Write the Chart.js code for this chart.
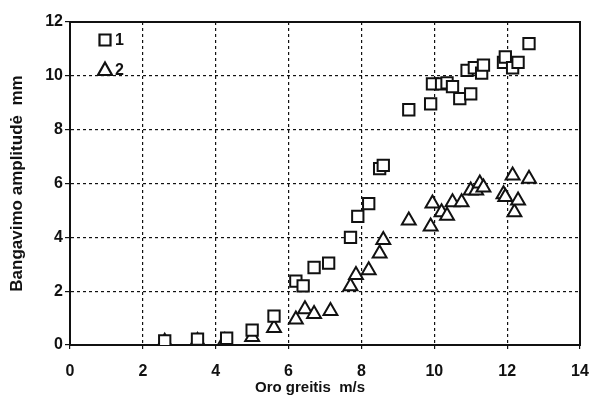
<!DOCTYPE html>
<html>
<head>
<meta charset="utf-8">
<script src="https://cdn.jsdelivr.net/npm/chart.js@4.4.1/dist/chart.umd.min.js"></script>
<style>
  body { margin: 0; background: #fff; }
  #wrap { width: 593px; height: 398px; }
</style>
</head>
<body>
<div id="wrap"><canvas id="myChart"></canvas></div>
<script>
// series 1 (squares)
const speed1 = [2.6, 3.5, 4.3, 5.0, 5.6, 6.2, 6.4, 6.7, 7.1, 7.7, 7.9, 8.2, 8.5, 8.6,
  9.3, 9.9, 9.95, 10.2, 10.35, 10.5, 10.7, 11.0, 10.9, 11.1, 11.3, 11.35, 11.9, 11.95, 12.15, 12.3, 12.6];
const amp1 = [0.15, 0.22, 0.25, 0.55, 1.07, 2.37, 2.2, 2.88, 3.04, 4.0, 4.78, 5.25, 6.55, 6.67,
  8.74, 8.96, 9.7, 9.7, 9.74, 9.6, 9.15, 9.33, 10.2, 10.3, 10.1, 10.4, 10.5, 10.7, 10.3, 10.5, 11.2];

// series 2 (triangles)
const speed2 = [2.6, 3.5, 4.25, 5.0, 5.6, 6.2, 6.45, 6.7, 7.15, 7.7, 7.85, 8.2, 8.5, 8.6,
  9.3, 9.9, 9.95, 10.2, 10.35, 10.5, 10.75, 11.0, 11.15, 11.25, 11.35, 11.9, 11.95, 12.15, 12.2, 12.3, 12.6];
const amp2 = [0.12, 0.15, 0.15, 0.3, 0.63, 0.95, 1.33, 1.15, 1.26, 2.18, 2.6, 2.78, 3.4, 3.9,
  4.63, 4.4, 5.26, 4.93, 4.8, 5.3, 5.3, 5.74, 5.74, 6.0, 5.85, 5.6, 5.5, 6.3, 4.93, 5.37, 6.18];

const seriesNames = ['1', '2'];
const xTitle = 'Oro greitis  m/s';
const yTitle = 'Bangavimo amplitudė  mm';

const toPoints = (xs, ys) => xs.map((x, i) => ({ x, y: ys[i] }));

const tickFont = { family: '"Liberation Sans", Arial, sans-serif', size: 16, weight: 'bold' };

// box, inner legend and axis titles
const extrasPlugin = {
  id: 'extras',
  beforeDatasetsDraw(chart) {
    const { ctx, chartArea: a } = chart;
    ctx.save();
    ctx.strokeStyle = '#111';
    ctx.lineWidth = 2;
    ctx.strokeRect(a.left, a.top, a.right - a.left, a.bottom - a.top);
    ctx.restore();
  },
  afterDraw(chart) {
    const { ctx, chartArea: a } = chart;
    ctx.save();
    ctx.fillStyle = '#111';
    ctx.strokeStyle = '#111';
    ctx.lineWidth = 2.2;
    // legend
    chart.data.datasets.forEach((ds, i) => {
      const cx = a.left + 35;
      const cy = a.top + 18 + i * 30;
      ctx.beginPath();
      if (ds.pointStyle === 'rect') {
        ctx.rect(cx - 5.5, cy - 5.5, 11, 11);
      } else {
        ctx.moveTo(cx, cy - 7.5);
        ctx.lineTo(cx + 7, cy + 5);
        ctx.lineTo(cx - 7, cy + 5);
        ctx.closePath();
      }
      ctx.stroke();
      ctx.font = 'bold 16px "Liberation Sans", Arial, sans-serif';
      ctx.textAlign = 'left';
      ctx.textBaseline = 'middle';
      ctx.fillText(ds.label, cx + 10, cy + 1);
    });
    // x title
    ctx.font = 'bold 15px "Liberation Sans", Arial, sans-serif';
    ctx.textAlign = 'center';
    ctx.textBaseline = 'middle';
    ctx.fillText(xTitle, (a.left + a.right) / 2 - 15, a.bottom + 43);
    // y title
    ctx.translate(17, (a.top + a.bottom) / 2);
    ctx.rotate(-Math.PI / 2);
    ctx.font = 'bold 17px "Liberation Sans", Arial, sans-serif';
    ctx.fillText(yTitle, 0, 0);
    ctx.restore();
  },
};

const weatherChart = new Chart('myChart', {
  type: 'scatter',
  data: {
    datasets: [
      {
        label: seriesNames[0],
        data: toPoints(speed1, amp1),
        pointStyle: 'rect',
        pointRadius: 8,
        borderColor: '#111',
        backgroundColor: '#fff',
        borderWidth: 2,
      },
      {
        label: seriesNames[1],
        data: toPoints(speed2, amp2),
        pointStyle: 'triangle',
        pointRadius: 8,
        borderColor: '#111',
        backgroundColor: '#fff',
        borderWidth: 2,
      },
    ],
  },
  options: {
    responsive: true,
    maintainAspectRatio: false,
    animation: false,
    events: [],
    layout: { padding: { top: 22, right: 13, left: 0, bottom: 0 } },
    plugins: {
      legend: { display: false },
      tooltip: { enabled: false },
    },
    scales: {
      x: {
        type: 'linear',
        min: 0,
        max: 14,
        ticks: { stepSize: 2, color: '#111', font: tickFont, padding: 13 },
        grid: { color: '#111', lineWidth: 1.2, tickLength: 4, tickColor: '#111' },
        border: { display: true, color: '#111', width: 2, dash: [3, 3] },
        afterFit: (scale) => {
          scale.height = 53;
          scale.paddingLeft = 0;
          scale.paddingRight = 0;
        },
      },
      y: {
        type: 'linear',
        min: 0,
        max: 12,
        ticks: { stepSize: 2, color: '#111', font: tickFont, padding: 2 },
        grid: { color: '#111', lineWidth: 1.2, tickLength: 5, tickColor: '#111' },
        border: { display: true, color: '#111', width: 2, dash: [3, 3] },
        afterFit: (scale) => {
          scale.width = 70;
          scale.paddingTop = 0;
          scale.paddingBottom = 0;
        },
      },
    },
  },
  plugins: [extrasPlugin],
});
</script>
</body>
</html>
